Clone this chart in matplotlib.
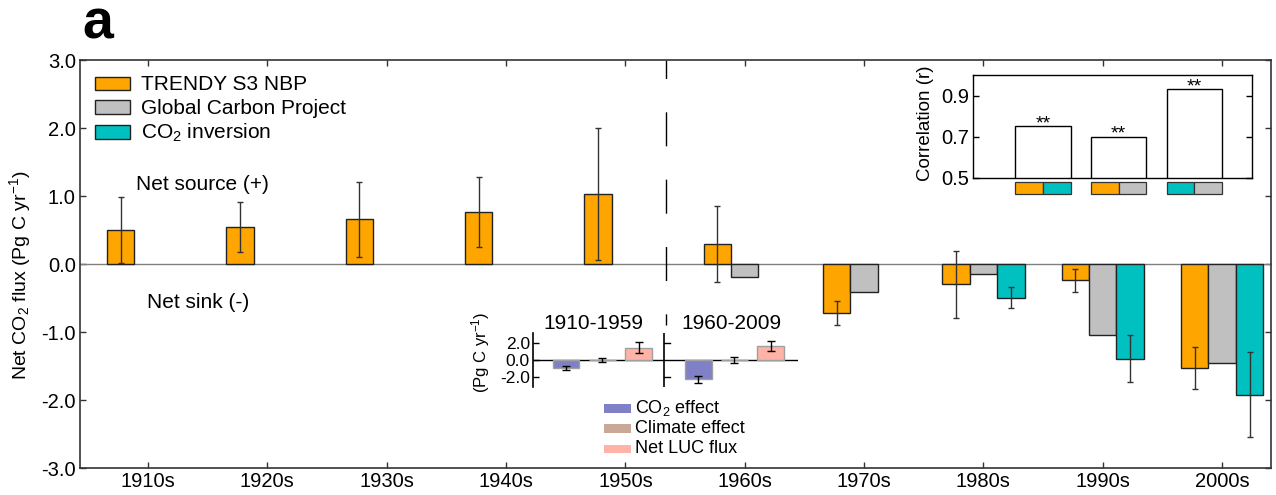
import numpy as np
import matplotlib
matplotlib.use('Agg')
import matplotlib.pyplot as plt
from matplotlib.patches import Rectangle
from matplotlib.ticker import FormatStrFormatter

plt.rcParams['font.family'] = ['Liberation Sans', 'DejaVu Sans']
plt.rcParams['mathtext.fontset'] = 'custom'
plt.rcParams['mathtext.rm'] = 'Liberation Sans'
plt.rcParams['mathtext.it'] = 'Liberation Sans:italic'
plt.rcParams['mathtext.default'] = 'regular'
plt.rcParams['axes.unicode_minus'] = False

# ---------------- data ----------------
decades = ['1910s', '1920s', '1930s', '1940s', '1950s',
           '1960s', '1970s', '1980s', '1990s', '2000s']
trendy = [0.50, 0.54, 0.66, 0.76, 1.03, 0.30, -0.72, -0.30, -0.24, -1.53]
trendy_err = [0.48, 0.37, 0.55, 0.515, 0.97, 0.56, 0.17, 0.49, 0.17, 0.31]

gcp_decades = ['1960s', '1970s', '1980s', '1990s', '2000s']
gcp = [-0.195, -0.41, -0.147, -1.05, -1.46]

inv_decades = ['1980s', '1990s', '2000s']
inv = [-0.495, -1.39, -1.925]
inv_err = [0.155, 0.35, 0.625]

series_labels = ['TRENDY S3 NBP', 'Global Carbon Project', 'CO$_2$ inversion']

corr = [0.75, 0.70, 0.93]
corr_pairs = [('TRENDY', 'INV'), ('TRENDY', 'GCP'), ('INV', 'GCP')]
corr_sig = ['**', '**', '**']

periods = ['1910-1959', '1960-2009']
factor_labels = ['CO$_2$ effect', 'Climate effect', 'Net LUC flux']
co2_eff = [-0.90, -2.26]
co2_err = [0.26, 0.40]
clim_eff = [0.05, 0.07]
clim_err = [0.22, 0.36]
luc_eff = [1.52, 1.74]
luc_err = [0.65, 0.60]

# ---------------- style ----------------
C_OR = '#FFA500'
C_GR = '#C0C0C0'
C_TE = '#00C0C0'
COLS = {'TRENDY': C_OR, 'GCP': C_GR, 'INV': C_TE}
C_CO2 = '#8080C6'
C_CLI = '#C9A898'
C_LUC = '#FFB3A6'
EDGE = '#222222'
ERRC = '#333333'

W, H = 1276, 495
fig = plt.figure(figsize=(W / 100, H / 100), dpi=100)


def fx(p):
    return p / W


def fy(p):
    return 1 - p / H


# ---------------- main axes ----------------
ax = fig.add_axes([fx(80), fy(468), fx(1271) - fx(80), fy(60) - fy(468)])
xpos = np.arange(len(decades))
bw = 0.23
off = 0.23

ax.bar(xpos - off, trendy, bw, color=C_OR, edgecolor=EDGE, lw=1, zorder=3)
ax.errorbar(xpos - off, trendy, yerr=trendy_err, fmt='none', ecolor=ERRC,
            elinewidth=1, capsize=2.5, capthick=1, zorder=4)

gx = np.array([decades.index(d) for d in gcp_decades])
ax.bar(gx, gcp, bw, color=C_GR, edgecolor=EDGE, lw=1, zorder=3)

ix = np.array([decades.index(d) for d in inv_decades])
ax.bar(ix + off, inv, bw, color=C_TE, edgecolor=EDGE, lw=1, zorder=3)
ax.errorbar(ix + off, inv, yerr=inv_err, fmt='none', ecolor=ERRC,
            elinewidth=1, capsize=2.5, capthick=1, zorder=4)

ax.axhline(0, color='#808080', lw=1, zorder=2)

# dashed separator between 1950s and 1960s
ax.plot([4.34, 4.34], [3.0, -0.897], color='k', lw=1.0,
        linestyle=(11.2, (24.5, 24.0)), zorder=2, clip_on=False)

ax.set_xlim(-0.57, 9.41)
ax.set_ylim(-3.0, 3.0)
ax.set_xticks(xpos)
ax.set_xticklabels(decades, fontsize=14.5)
ax.set_yticks(np.arange(-3, 3.01, 1.0))
ax.yaxis.set_major_formatter(FormatStrFormatter('%.1f'))
ax.tick_params(axis='both', direction='in', length=4, width=1, color='#333333',
               top=True, right=True, labelsize=14.5, pad=3)
for s in ax.spines.values():
    s.set_color('#333333')
    s.set_linewidth(1.2)

fig.text(fx(20), fy(275), 'Net CO$_2$ flux (Pg C yr$^{-1}$)', rotation=90,
         ha='center', va='center', fontsize=14)

fig.text(fx(82), fy(38.5), 'a', fontsize=40, fontweight='bold',
         ha='left', va='baseline')

fig.text(fx(202), fy(190), 'Net source (+)', fontsize=15, ha='center', va='baseline')
fig.text(fx(198), fy(307.5), 'Net sink (-)', fontsize=15, ha='center', va='baseline')

# main legend
leg_cols = [C_OR, C_GR, C_TE]
leg_base = [90, 114, 139]
for lab, col, b in zip(series_labels, leg_cols, leg_base):
    fig.add_artist(Rectangle((fx(95), fy(b)), fx(130) - fx(95), fy(b - 13.5) - fy(b),
                             transform=fig.transFigure, facecolor=col,
                             edgecolor=EDGE, lw=1))
    fig.text(fx(141), fy(b), lab, fontsize=15, ha='left', va='baseline')

# ---------------- correlation inset ----------------
axc = fig.add_axes([fx(973), fy(177.7), fx(1252) - fx(973), fy(75) - fy(177.7)])
cx = np.arange(1, len(corr) + 1)
cbw = 0.733
axc.bar(cx, corr, cbw, color='white', edgecolor='k', lw=1)
for xi, v, s in zip(cx, corr, corr_sig):
    axc.text(xi, v - 0.008, s, ha='center', va='baseline', fontsize=14)
for xi, (a, b) in zip(cx, corr_pairs):
    for k, key in enumerate((a, b)):
        axc.add_patch(Rectangle((xi - cbw / 2 + k * cbw / 2, 0.421), cbw / 2, 0.058,
                                facecolor=COLS[key], edgecolor='#333333', lw=0.9,
                                clip_on=False))
axc.set_xlim(0.075, 3.76)
axc.set_ylim(0.5, 1.0)
axc.set_yticks([0.5, 0.7, 0.9])
axc.yaxis.set_major_formatter(FormatStrFormatter('%.1f'))
axc.set_xticks([])
axc.tick_params(axis='y', direction='in', length=4, width=1, right=True,
                labelsize=14.5, pad=3)
for s in axc.spines.values():
    s.set_color('k')
    s.set_linewidth(1)
fig.text(fx(925), fy(123), 'Correlation (r)', rotation=90, ha='center',
         va='center', fontsize=13.5)

# ---------------- factor inset ----------------
axf = fig.add_axes([fx(532.7), fy(386.7), fx(798) - fx(532.7), fy(333) - fy(386.7)])
axf.patch.set_alpha(0)
gap = 3.64
fbw = 0.735
cols_f = [C_CO2, C_CLI, C_LUC]
vals_f = [co2_eff, clim_eff, luc_eff]
errs_f = [co2_err, clim_err, luc_err]
for g in range(len(periods)):
    for k in range(3):
        xx = g * gap + k
        axf.bar([xx], [vals_f[k][g]], fbw, color=cols_f[k], edgecolor='#A0A0A0',
                lw=1, zorder=3)
        axf.errorbar([xx], [vals_f[k][g]], yerr=[errs_f[k][g]], fmt='none',
                     ecolor='k', elinewidth=1, capsize=3, capthick=1, zorder=4)
divx = 2.71
axf.axhline(0, color='k', lw=1, zorder=2)
axf.axvline(divx, color='k', lw=1.2, zorder=2)
ftick = [-2.0, 0.0, 2.0]
for yt in ftick:
    if yt != 0:
        axf.plot([divx, divx + 0.14], [yt, yt], color='k', lw=1, zorder=2)
axf.set_xlim(-0.92, 6.39)
axf.set_ylim(-3.15, 3.25)
axf.set_yticks(ftick)
axf.yaxis.set_major_formatter(FormatStrFormatter('%.1f'))
axf.set_xticks([])
axf.tick_params(axis='y', direction='in', length=4, width=1, labelsize=12.5, pad=2)
for side in ('top', 'right', 'bottom'):
    axf.spines[side].set_visible(False)
axf.spines['left'].set_color('k')
axf.spines['left'].set_linewidth(1.2)

fig.text(fx(480.5), fy(352.5), '(Pg C yr$^{-1}$)', rotation=90, ha='center',
         va='center', fontsize=12)
for p, cxp in zip(periods, [593, 731.7]):
    fig.text(fx(cxp), fy(329.3), p, ha='center', va='baseline', fontsize=15)

# factor legend
fl_base = [412.5, 432.7, 453.3]
for lab, col, b in zip(factor_labels, cols_f, fl_base):
    fig.add_artist(Rectangle((fx(604), fy(b)), fx(630.7) - fx(604), fy(b - 8.5) - fy(b),
                             transform=fig.transFigure, facecolor=col,
                             edgecolor='none'))
    fig.text(fx(635), fy(b), lab, fontsize=13, ha='left', va='baseline')

fig.savefig('out.png', dpi=100)
